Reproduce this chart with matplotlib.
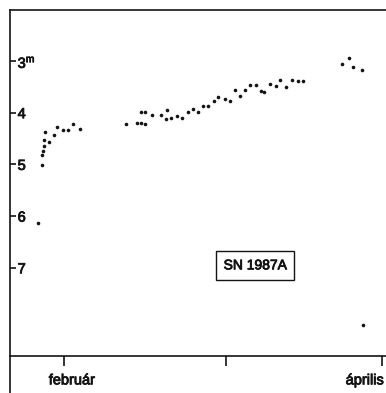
import matplotlib
matplotlib.use("Agg")
import matplotlib.pyplot as plt
import matplotlib.transforms as mtransforms
import matplotlib.patheffects as pe

plt.rcParams['font.family'] = ['Liberation Sans', 'DejaVu Sans']
plt.rcParams['mathtext.fontset'] = 'custom'
plt.rcParams['mathtext.rm'] = 'Liberation Sans'

# day of year 1987 and visual magnitude
days = [54.1, 54.8, 54.8, 54.9, 55.2, 55.1, 55.4, 56.1, 57.0, 57.7,
        58.8, 59.7, 60.7, 62.0,
        70.9, 73.0, 73.7, 74.6, 73.7, 74.6, 75.8, 77.7, 78.8, 78.6,
        79.6, 80.6, 81.7, 82.7, 83.8, 84.8, 85.6, 86.7, 87.7, 88.5,
        89.8, 90.8, 91.8, 92.8, 93.7, 94.6, 95.9, 96.7, 97.4, 98.6,
        99.6, 100.5, 101.5, 102.7, 103.8, 104.9,
        112.4, 113.6, 114.4, 116.2, 116.4]
mags = [6.14, 5.01, 4.82, 4.74, 4.64, 4.52, 4.38, 4.57, 4.44, 4.28,
        4.34, 4.34, 4.22, 4.32,
        4.22, 4.20, 4.20, 4.21, 3.99, 3.98, 4.04, 4.04, 3.95, 4.13,
        4.10, 4.06, 4.10, 3.98, 3.93, 3.98, 3.87, 3.87, 3.77, 3.70,
        3.73, 3.78, 3.57, 3.68, 3.57, 3.46, 3.46, 3.59, 3.60, 3.45,
        3.49, 3.36, 3.50, 3.37, 3.39, 3.39,
        3.06, 2.95, 3.12, 3.17, 8.11]

mag_ticks = [3, 4, 5, 6, 7]
mag_labels = [r'$3^{\rm m}$', '4', '5', '6', '7']
month_ticks = [59, 90, 120]
month_labels = ['február', '', 'április']

ink = '#141414'
thick = [pe.withStroke(linewidth=0.6, foreground=ink)]

fig = plt.figure(figsize=(3.86, 3.93), dpi=100)
ax = fig.add_axes([10 / 386, 37 / 393, 376 / 386, 346 / 393])

ax.plot(days, mags, 'o', color=ink, markersize=2.6, markeredgewidth=0)

ax.set_xlim(48.64, 120.77)
ax.set_ylim(8.706, 2.014)

for side in ['left', 'bottom', 'top']:
    ax.spines[side].set_linewidth(1.2)
    ax.spines[side].set_color(ink)
ax.spines['right'].set_visible(False)
ax.spines['left'].set_bounds(2.014, 9.45)

ax.set_yticks(mag_ticks)
ax.set_yticklabels(mag_labels, ha='left', fontsize=10.5)
ax.tick_params(axis='y', direction='in', length=4.5, width=1.2,
               pad=-5.5, colors=ink)
for lab in ax.get_yticklabels():
    lab.set_path_effects(thick)

ax.set_xticks(month_ticks)
ax.set_xticklabels(month_labels, fontsize=10.5)
ax.tick_params(axis='x', direction='out', length=7, width=1.2,
               pad=5.5, colors=ink)
shifts = [8, 0, -17]
for lab, dx in zip(ax.get_xticklabels(), shifts):
    lab.set_transform(lab.get_transform() +
                      mtransforms.ScaledTranslation(dx / 100, 0, fig.dpi_scale_trans))
    lab.set_path_effects(thick)

ax.text(0.652, 0.262, 'SN 1987A', transform=ax.transAxes, fontsize=10,
        ha='center', va='center', color=ink, path_effects=thick,
        bbox=dict(boxstyle='square,pad=0.55', fc='white', ec=ink, lw=1.0))

fig.savefig('out.png', dpi=100)
